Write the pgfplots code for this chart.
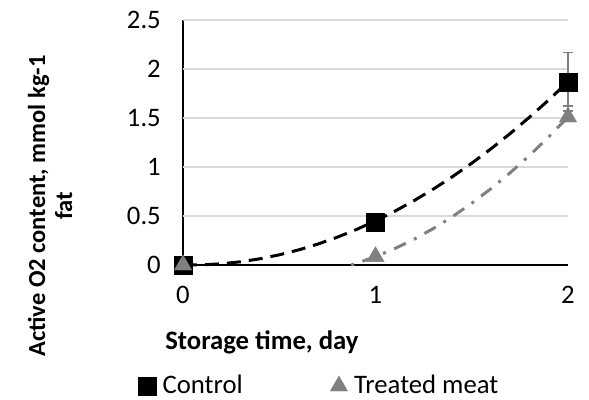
\documentclass[border=0pt]{standalone}
\usepackage{pgfplots}
\pgfplotsset{compat=1.18}
\usepackage{fontspec}
\setmainfont{Carlito}
\definecolor{gridc}{RGB}{217,217,217}
\definecolor{mgray}{RGB}{128,128,128}
\begin{document}
\fontsize{26.7bp}{32bp}\selectfont
\begin{tikzpicture}
\begin{axis}[
  scale only axis,
  width=385bp, height=245bp,
  xmin=0, xmax=2, ymin=0, ymax=2.5,
  xtick={0,1,2}, ytick={0,0.5,1,1.5,2,2.5},
  axis x line=bottom, axis y line=left,
  axis line style={-, line width=2bp, black},
  xtick style={draw=none}, ytick style={draw=none},
  xmajorgrids=false, ymajorgrids=false,
  clip=false,
  /pgf/number format/assume math mode=true,
  tick label style={font=\fontsize{26.7bp}{32bp}\selectfont},
  yticklabel style={anchor=east, xshift=-11bp},
  xticklabel style={anchor=north, yshift=-10bp},
  xlabel={Storage time, day},
  xlabel style={at={(axis description cs:0.205,-0.315)}, anchor=center, font=\bfseries\fontsize{26.7bp}{32bp}\selectfont},
  ylabel={Active O2 content, mmol kg-1\\fat},
  ylabel style={at={(axis description cs:-0.345,0.241)}, anchor=center, rotate=0, align=center, font=\bfseries\fontsize{24.5bp}{27bp}\selectfont},
  legend columns=2,
  legend style={at={(axis description cs:-0.117,-0.494)}, anchor=west, draw=none, fill=none, inner sep=0pt,
    font=\fontsize{26.7bp}{32bp}\selectfont,
    /tikz/every odd column/.append style={column sep=5bp},
    /tikz/every even column/.append style={column sep=86bp},
    nodes={inner sep=1.5bp}},
  legend image code/.code={\draw[#1] plot coordinates {(9bp,0bp)};},
  error bars/error bar style={line width=1.5bp, mgray},
  error bars/error mark options={rotate=90, mark size=4.5bp, line width=1.5bp, mgray},
]
% clean background at the category positions
\draw[white, line width=4bp] (axis cs:1,0.016) -- (axis cs:1,2.53);
\draw[white, line width=4bp] (axis cs:2,0.016) -- (axis cs:2,2.53);
% horizontal gridlines
\foreach \g in {0.5,1,1.5,2,2.5} {
  \edef\temp{\noexpand\draw[gridc, line width=2bp] (axis cs:0,\g) -- (axis cs:2,\g);}
  \temp
}
\addplot[only marks, mark=square*, mark size=9bp, black,
  error bars/.cd, y dir=both, y explicit]
  coordinates {(0,0) +- (0,0) (1,0.44) +- (0,0) (2,1.87) +- (0,0.30)};
\addlegendentry{Control}
\addplot[only marks, mark=triangle*, mark size=10bp, mgray,
  error bars/.cd, y dir=plus, y explicit]
  coordinates {(0,0) +- (0,0) (1,0.085) +- (0,0) (2,1.51) +- (0,0.11)};
\addlegendentry{Treated meat}
% trendlines (polynomial)
\addplot[forget plot, black, line width=3bp, dash pattern=on 14bp off 8bp]
  coordinates {(0,0) (0.1,0.0014) (0.2,0.0124) (0.3,0.0332) (0.4,0.0636) (0.5,0.1038) (0.6,0.1536) (0.7,0.2132) (0.8,0.2824) (0.9,0.3614) (1.0,0.45) (1.1,0.5484) (1.2,0.6564) (1.3,0.7742) (1.4,0.9016) (1.5,1.0388) (1.6,1.1856) (1.7,1.3422) (1.8,1.5084) (1.9,1.6844) (2.0,1.87)};
\addplot[forget plot, mgray, line width=3bp, dash pattern=on 3bp off 9bp on 13bp off 9bp]
  coordinates {(0.873,0) (0.9,0.0162) (1.0,0.085) (1.1,0.1672) (1.2,0.2628) (1.3,0.3718) (1.4,0.4942) (1.5,0.63) (1.6,0.7792) (1.7,0.9418) (1.8,1.1178) (1.9,1.3072) (2.0,1.51)};
\coordinate (sw) at (rel axis cs:0,0);
\coordinate (ne) at (rel axis cs:1,1);
\end{axis}
\pgfresetboundingbox
\useasboundingbox ([shift={(-183bp,-135bp)}]sw) rectangle ([shift={(21bp,20bp)}]ne);
\end{tikzpicture}
\end{document}
